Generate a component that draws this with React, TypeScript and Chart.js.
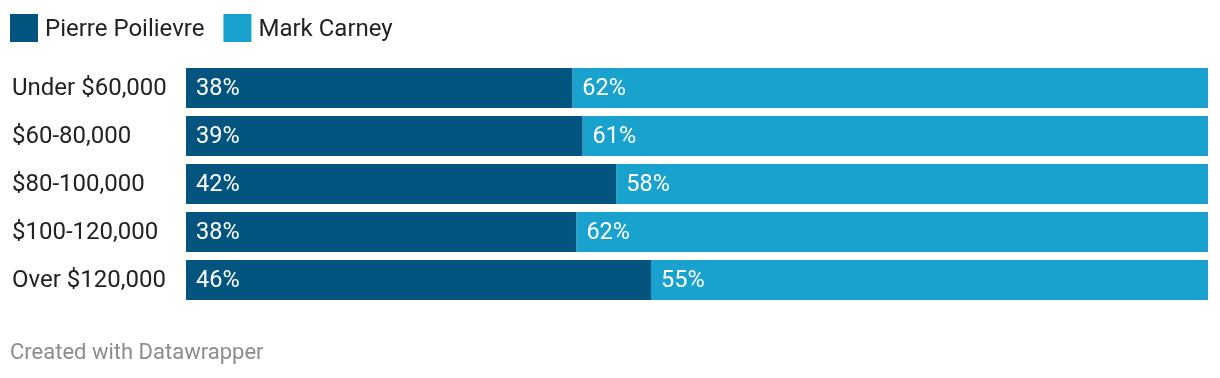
import React, { useEffect, useRef } from "react";
import { Chart, registerables } from "chart.js";

Chart.register(...registerables);

const categories = ["Under $60,000", "$60-80,000", "$80-100,000", "$100-120,000", "Over $120,000"];
const seriesNames = ["Pierre Poilievre", "Mark Carney"];
const poilievre = [37.8, 38.8, 42.1, 38.2, 45.5];
const carney = [62.2, 61.2, 57.9, 61.8, 54.5];
const colors = ["#03547f", "#19a2cd"];
const footerText = "Created with Datawrapper";

const FONT = "Roboto, 'Noto Sans', Arial, sans-serif";

const overlayPlugin = {
  id: "overlay",
  afterDatasetsDraw(chart: any) {
    const ctx = chart.ctx;
    ctx.save();
    ctx.font = `23.5px ${FONT}`;
    ctx.fillStyle = "#ffffff";
    ctx.textAlign = "left";
    ctx.textBaseline = "middle";
    chart.data.datasets.forEach((ds: any, di: number) => {
      const meta = chart.getDatasetMeta(di);
      meta.data.forEach((el: any, i: number) => {
        const v = ds.data[i];
        const left = Math.min(el.base, el.x);
        ctx.fillText(`${Math.round(v)}%`, left + 10, el.y + 1);
      });
    });
    ctx.restore();
  },
  afterDraw(chart: any) {
    const ctx = chart.ctx;
    ctx.save();
    ctx.font = `24px ${FONT}`;
    ctx.textBaseline = "alphabetic";
    ctx.textAlign = "left";
    let x = 10;
    chart.data.datasets.forEach((ds: any) => {
      ctx.fillStyle = ds.backgroundColor;
      ctx.fillRect(x, 14, 28, 28);
      ctx.fillStyle = "#222222";
      ctx.fillText(ds.label, x + 35, 36);
      x += 35 + ctx.measureText(ds.label).width + 19;
    });
    ctx.font = `22px ${FONT}`;
    ctx.fillStyle = "#8c8c8c";
    ctx.fillText(footerText, 10, 359);
    ctx.restore();
  },
};

export default function App() {
  const ref = useRef<HTMLCanvasElement | null>(null);
  useEffect(() => {
    if (!ref.current) return;
    const chart = new Chart(ref.current, {
      type: "bar",
      data: {
        labels: categories,
        datasets: [
          { label: seriesNames[0], data: poilievre, backgroundColor: colors[0], borderWidth: 0 },
          { label: seriesNames[1], data: carney, backgroundColor: colors[1], borderWidth: 0 },
        ],
      },
      options: {
        indexAxis: "y",
        animation: false,
        responsive: false,
        maintainAspectRatio: false,
        layout: { padding: { top: 64, bottom: 74, left: 12, right: 12 } },
        datasets: { bar: { categoryPercentage: 1, barPercentage: 40 / 48 } },
        scales: {
          x: {
            stacked: true,
            min: 0,
            max: 100,
            display: false,
          },
          y: {
            stacked: true,
            grid: { display: false },
            border: { display: false },
            afterFit: (scale: any) => {
              scale.width = 174;
            },
            ticks: {
              crossAlign: "far",
              color: "#222222",
              font: { family: FONT, size: 24 },
              padding: 0,
              labelOffset: 1,
            },
          },
        },
        plugins: {
          legend: { display: false },
          tooltip: { enabled: false },
          title: { display: false },
        },
      },
      plugins: [overlayPlugin],
    });
    return () => chart.destroy();
  }, []);
  return (
    <div style={{ position: "fixed", left: 0, top: 0, width: 1220, height: 378, background: "#fff" }}>
      <canvas ref={ref} width={1220} height={378} style={{ width: 1220, height: 378, display: "block" }} />
    </div>
  );
}
